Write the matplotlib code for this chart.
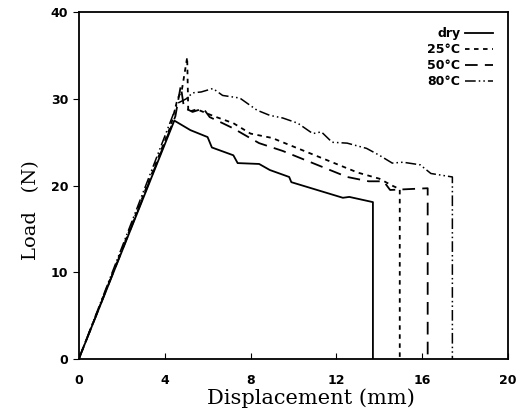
import matplotlib
matplotlib.use('Agg')
import matplotlib.pyplot as plt

# load-displacement curves
DRY_X = [0, 4.45, 5.2, 6.0, 6.2, 7.2, 7.4, 8.4, 8.9, 9.8, 9.9, 11.1, 12.3, 12.6, 13.7, 13.7]
DRY_Y = [0, 27.5, 26.4, 25.6, 24.4, 23.5, 22.6, 22.5, 21.8, 21.0, 20.4, 19.5, 18.6, 18.7, 18.1, 0]

T25_X = [0, 4.3, 4.6, 4.8, 5.05, 5.1, 5.5, 6.3, 7.2, 8.0, 9.0, 10.0, 11.0, 12.0, 13.0, 14.0, 14.6, 14.95, 14.95]
T25_Y = [0, 27.0, 30.0, 31.0, 34.8, 28.5, 28.8, 28.0, 27.2, 26.0, 25.5, 24.5, 23.5, 22.5, 21.5, 20.8, 20.0, 19.6, 0]

T50_X = [0, 4.5, 4.75, 4.9, 5.3, 5.8, 6.1, 6.7, 7.2, 7.9, 8.4, 9.5, 10.5, 11.5, 12.5, 13.5, 14.2, 14.5, 16.25, 16.25]
T50_Y = [0, 28.0, 31.5, 29.0, 28.5, 28.9, 27.9, 27.2, 26.6, 25.6, 24.9, 24.0, 23.0, 22.0, 21.0, 20.5, 20.5, 19.5, 19.7, 0]

T80_X = [0, 4.6, 5.0, 5.3, 5.7, 6.25, 6.7, 7.5, 8.3, 8.9, 9.5, 10.2, 10.9, 11.3, 11.8, 12.5, 13.4, 14.0, 14.6, 15.1, 15.9, 16.4, 17.4, 17.4]
T80_Y = [0, 29.5, 30.0, 30.7, 30.8, 31.2, 30.4, 30.1, 28.7, 28.1, 27.8, 27.2, 26.0, 26.2, 25.0, 24.9, 24.3, 23.5, 22.6, 22.7, 22.4, 21.4, 21.0, 0]

X_TICKS = [0, 4, 8, 12, 16, 20]
Y_TICKS = [0, 10, 20, 30, 40]

fig = plt.figure(figsize=(5.25, 4.2), dpi=100)
ax = fig.add_axes([0.150, 0.145, 0.818, 0.826])

ax.plot(DRY_X, DRY_Y, color='black', lw=1.3, ls='-', label='dry')
ax.plot(T25_X, T25_Y, color='black', lw=1.3, ls=(0, (2.5, 2.5)), label='25°C')
ax.plot(T50_X, T50_Y, color='black', lw=1.3, ls=(0, (7, 4)), label='50°C')
ax.plot(T80_X, T80_Y, color='black', lw=1.1, ls=(0, (7, 2, 1, 2, 1, 2)), label='80°C')

ax.set_xlim(0, 20)
ax.set_ylim(0, 40)
ax.set_xticks(X_TICKS)
ax.set_yticks(Y_TICKS)
ax.tick_params(axis='x', direction='in', length=4, pad=11, labelsize=9)
ax.tick_params(axis='y', direction='out', length=4, labelsize=9)
for lab in ax.get_xticklabels() + ax.get_yticklabels():
    lab.set_fontweight('bold')
for s in ax.spines.values():
    s.set_linewidth(1.3)

ax.set_xlabel('Displacement (mm)', family='DejaVu Serif', fontsize=15)
ax.xaxis.set_label_coords(0.54, -0.085)
ax.set_ylabel('Load   (N)', family='DejaVu Serif', fontsize=14)
ax.yaxis.set_label_coords(-0.09, 0.43)

leg = ax.legend(loc='upper right', frameon=False, markerfirst=False,
                handlelength=2.2, handletextpad=0.4, labelspacing=0.25,
                prop={'weight': 'bold', 'size': 9}, bbox_to_anchor=(0.99, 0.99))
for t in leg.get_texts():
    t.set_ha('right')

fig.savefig('out.png', dpi=100)
